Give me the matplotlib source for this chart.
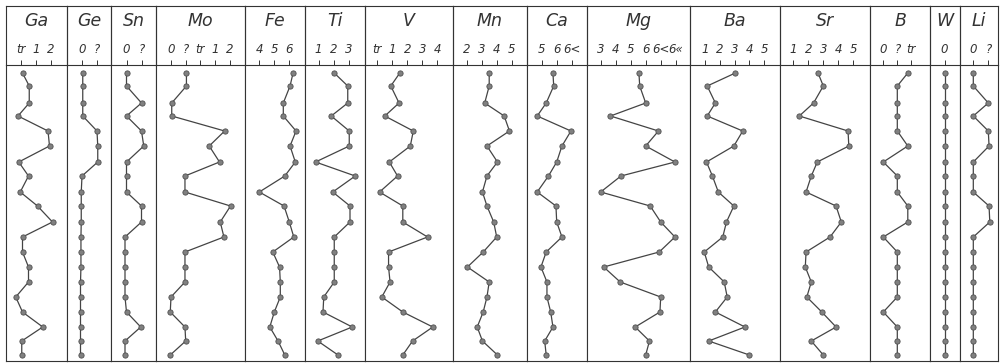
import matplotlib
matplotlib.use("Agg")
import matplotlib.pyplot as plt
from matplotlib import font_manager

# ---- data ----
sample_depth = [8, 21, 38, 51, 66, 81, 97, 111, 127, 141, 157, 172, 187, 202, 217, 232, 247, 262, 276, 290]

elements = ["Ga", "Ge", "Sn", "Mo", "Fe", "Ti", "V", "Mn", "Ca", "Mg", "Ba", "Sr", "B", "W", "Li"]

tick_labels = {
    "Ga": ["tr", "1", "2"],
    "Ge": ["0", "?"],
    "Sn": ["0", "?"],
    "Mo": ["0", "?", "tr", "1", "2"],
    "Fe": ["4", "5", "6"],
    "Ti": ["1", "2", "3"],
    "V":  ["tr", "1", "2", "3", "4"],
    "Mn": ["2", "3", "4", "5"],
    "Ca": ["5", "6", "6<"],
    "Mg": ["3", "4", "5", "6", "6<", "6«"],
    "Ba": ["1", "2", "3", "4", "5"],
    "Sr": ["1", "2", "3", "4", "5"],
    "B":  ["0", "?", "tr"],
    "W":  ["0"],
    "Li": ["0", "?"],
}
tick_values = {
    "Ga": [0, 1, 2], "Ge": [0, 1], "Sn": [0, 1], "Mo": [0, 1, 2, 3, 4],
    "Fe": [4, 5, 6], "Ti": [1, 2, 3], "V": [0, 1, 2, 3, 4], "Mn": [2, 3, 4, 5],
    "Ca": [5, 6, 7], "Mg": [3, 4, 5, 6, 7, 8], "Ba": [1, 2, 3, 4, 5],
    "Sr": [1, 2, 3, 4, 5], "B": [0, 1, 2], "W": [0], "Li": [0, 1],
}

Ga = [0.1, 0.55, 0.55, -0.2, 1.8, 1.9, -0.15, 0.5, -0.05, 1.1, 2.1, 0.1, 0.1, 0.5, 0.5, -0.35, 0.1, 1.45, 0.05, 0.05]
Ge = [0.05, 0.05, 0.05, 0.05, 1.0, 1.05, 1.05, 0.0, -0.05, -0.05, -0.05, -0.07, -0.07, -0.07, -0.1, -0.1, -0.1, -0.1, -0.1, -0.1]
Sn = [0, 0, 1, 0, 1, 1.15, 0, 0, 0, 1, 1, -0.1, -0.1, -0.1, -0.1, -0.1, 0, 0.95, -0.1, -0.1]
Mo = [1.05, 1.05, 0.05, 0.05, 3.65, 2.6, 3.3, 0.95, 0.95, 4.05, 3.35, 3.6, 0.95, 0.95, 0.95, 0.0, -0.05, 0.95, 1.0, -0.05]
Fe = [6.25, 6.05, 5.6, 5.6, 6.45, 6.05, 6.4, 5.7, 4.0, 5.65, 6.0, 6.3, 4.9, 5.35, 5.4, 5.4, 5.0, 4.7, 5.25, 5.7]
Ti = [2.05, 2.95, 2.95, 1.85, 3.05, 3.05, 0.8, 3.45, 1.95, 3.1, 3.1, 2.05, 2.05, 2.05, 2.05, 1.35, 1.3, 3.25, 0.95, 2.3]
V = [1.5, 0.9, 1.45, 0.5, 2.4, 2.2, 0.8, 1.35, 0.15, 1.7, 1.7, 3.35, 0.75, 0.75, 0.85, 0.3, 1.7, 3.7, 2.35, 1.7]
Mn = [3.5, 3.5, 3.2, 4.5, 4.85, 3.35, 4.05, 3.35, 3.05, 3.35, 3.8, 4.0, 3.1, 2.05, 3.5, 3.35, 3.1, 2.7, 3.05, 4.05]
Ca = [5.75, 5.8, 5.3, 4.7, 6.95, 6.35, 6.0, 5.45, 4.7, 5.95, 6.0, 6.35, 5.3, 4.95, 5.35, 5.35, 5.6, 5.75, 5.2, 5.3]
Mg = [5.55, 5.6, 6.0, 3.65, 6.85, 6.0, 7.95, 4.35, 3.0, 6.3, 7.0, 7.95, 6.9, 3.2, 4.3, 7.0, 6.95, 5.3, 6.25, 6.0]
Ba = [3.05, 1.15, 1.7, 1.15, 3.55, 2.95, 1.1, 1.5, 1.9, 2.95, 2.45, 2.2, 0.95, 1.25, 2.3, 2.5, 1.7, 3.7, 1.25, 4.0]
Sr = [2.65, 3.0, 2.35, 1.4, 4.65, 4.7, 2.6, 2.2, 1.85, 3.85, 4.2, 3.45, 1.85, 1.8, 2.2, 1.9, 2.9, 3.85, 2.2, 3.0]
B = [1.75, 1, 1, 1, 1, 1.75, 0, 1, 1, 1.75, 1.75, 0, 1, 1, 1, 1, 0, 1, 1, 1]
W = [0] * 20
Li = [0, 0, 1, 0, 1, 1.05, 0, 0, 0, 1.05, 1.1, 0, 0, 0, 0, 0, 0, 0, 0, 0]

series = {"Ga": Ga, "Ge": Ge, "Sn": Sn, "Mo": Mo, "Fe": Fe, "Ti": Ti, "V": V, "Mn": Mn,
          "Ca": Ca, "Mg": Mg, "Ba": Ba, "Sr": Sr, "B": B, "W": W, "Li": Li}

# ---- layout (pixel geometry) ----
W_PX, H_PX = 1000, 363
panel_edges = [6, 67, 111, 156, 245, 305, 365, 453, 527, 587, 690, 780, 870, 930, 960, 998]
tick_origin = {"Ga": 21, "Ge": 82, "Sn": 126.5, "Mo": 171, "Fe": 259.3, "Ti": 318.5, "V": 377.3,
               "Mn": 466.7, "Ca": 541.7, "Mg": 600.7, "Ba": 705, "Sr": 793.3, "B": 883.3,
               "W": 944.5, "Li": 973.3}
px_per_unit = {"Mo": 14.7, "Ba": 14.8, "B": 14.0}

top_px, head_px, bot_px = 6, 65, 361

installed = {f.name for f in font_manager.fontManager.ttflist}
fam = "Liberation Sans Narrow" if "Liberation Sans Narrow" in installed else "DejaVu Sans"
tick_size = 10 if fam != "DejaVu Sans" else 8.5
title_size = 15 if fam != "DejaVu Sans" else 12.5

fig = plt.figure(figsize=(W_PX / 100, H_PX / 100), dpi=100)
fig.patch.set_facecolor("white")

ink = "#333333"
font = dict(family=fam, style="italic")

for i, el in enumerate(elements):
    L, R = panel_edges[i], panel_edges[i + 1]
    s = px_per_unit.get(el, 15.0)
    v0 = tick_values[el][0]
    p0 = tick_origin[el]
    xmin = v0 + (L - p0) / s
    xmax = v0 + (R - p0) / s

    ax = fig.add_axes([L / W_PX, 1 - bot_px / H_PX, (R - L) / W_PX, (bot_px - head_px) / H_PX])
    ax.plot(series[el], sample_depth, "-o", color="#444444", lw=0.9,
            ms=3.8, mfc="#808080", mec="#505050", mew=0.6, clip_on=False)
    ax.set_xlim(xmin, xmax)
    ax.set_ylim(bot_px - head_px, 0)
    ax.set_yticks([])
    ax.xaxis.tick_top()
    ax.set_xticks(tick_values[el])
    ax.set_xticklabels(tick_labels[el], fontsize=tick_size, color=ink, **font)
    ax.tick_params(axis="x", direction="out", length=3.5, width=0.7, pad=3, colors=ink)
    for sp in ax.spines.values():
        sp.set_color(ink)
        sp.set_linewidth(0.8)

    hx = fig.add_axes([L / W_PX, 1 - head_px / H_PX, (R - L) / W_PX, (head_px - top_px) / H_PX])
    hx.set_xticks([])
    hx.set_yticks([])
    hx.patch.set_alpha(0)
    for sp in hx.spines.values():
        sp.set_color(ink)
        sp.set_linewidth(0.8)
    hx.spines["bottom"].set_visible(False)
    hx.text(0.5, 0.75, el, transform=hx.transAxes, ha="center", va="center",
            fontsize=title_size, color=ink, **font)

fig.savefig("out.png", dpi=100, facecolor="white")
